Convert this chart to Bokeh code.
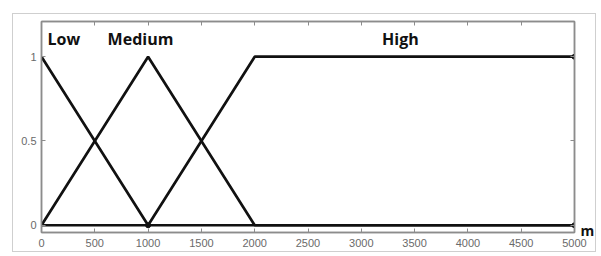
from bokeh.plotting import figure
from bokeh.models import (Range1d, LinearAxis, FixedTicker,
                          CustomLabelingPolicy)
from bokeh.embed import file_html
from bokeh.resources import INLINE
from bokeh.core.properties import value

# ---- data ----
x_ticks = [0, 500, 1000, 1500, 2000, 2500, 3000, 3500, 4000, 4500, 5000]
y_ticks = [0, 0.5, 1]
y_tick_labels = {0: "0", 0.5: "0.5", 1: "1"}

low_x = [0, 1000, 5000]
low_y = [1, 0, 0]
medium_x = [0, 1000, 2000, 5000]
medium_y = [0, 1, 0, 0]
high_x = [0, 1000, 2000, 5000]
high_y = [0, 0, 1, 1]

marker_x = [1000, 5000, 5000]
marker_y = [0, 0, 1]

set_names = ["Low", "Medium", "High"]
set_label_x = [56, 620, 3195]
set_label_y = [1.105, 1.105, 1.105]

unit_label = "m"
unit_label_y = -0.031

# ---- figure ----
FRAME = "#8c8c8c"
p = figure(width=584, height=239, output_backend="svg", toolbar_location=None,
           x_range=Range1d(0, 5000), y_range=Range1d(-0.043, 1.209),
           min_border_left=28, min_border_right=21, min_border_top=7,
           min_border_bottom=21, x_axis_location=None, y_axis_location=None)
p.styles = {"margin-left": "12px", "margin-top": "13px",
            "border": "1.5px solid #cfcfcf"}
p.grid.visible = False
p.outline_line_color = FRAME
p.outline_line_width = 1.5
p.background_fill_color = "white"
p.border_fill_color = "white"

hide_all = CustomLabelingPolicy(code="return new Set()")

def style_axis(ax, ticks, show_labels):
    ax.ticker = FixedTicker(ticks=ticks)
    ax.axis_line_color = FRAME
    ax.axis_line_width = 1.5
    ax.major_tick_in = 4
    ax.major_tick_out = 0
    ax.major_tick_line_color = FRAME
    ax.minor_tick_line_color = None
    ax.major_label_text_font = "Liberation Sans"
    ax.major_label_text_color = "#6a6a6a"
    ax.major_label_text_font_size = "11px"
    ax.major_label_standoff = 4
    if not show_labels:
        ax.major_label_policy = hide_all
        ax.major_label_text_font_size = "0px"
        ax.major_label_standoff = 0

bottom = LinearAxis()
style_axis(bottom, x_ticks, True)
bottom.major_label_standoff = 6
p.add_layout(bottom, "below")
left = LinearAxis()
style_axis(left, y_ticks, True)
left.major_label_overrides = y_tick_labels
left.major_label_standoff = 5
p.add_layout(left, "left")
top = LinearAxis()
style_axis(top, x_ticks, False)
p.add_layout(top, "above")
right = LinearAxis()
style_axis(right, y_ticks, False)
p.add_layout(right, "right")

# unit label "m" to the right of the x axis end
unit_axis = LinearAxis(ticker=FixedTicker(ticks=[unit_label_y]),
                       major_label_overrides={unit_label_y: unit_label},
                       axis_line_color=None, major_tick_line_color=None,
                       minor_tick_line_color=None, major_tick_in=0,
                       major_tick_out=0, major_label_standoff=6,
                       major_label_text_font="Open Sans",
                       major_label_text_font_style="bold",
                       major_label_text_font_size="14px",
                       major_label_text_color="#111111")
p.add_layout(unit_axis, "right")

LW = 2.7
p.line(low_x, low_y, line_color="#111111", line_width=LW)
p.line(medium_x, medium_y, line_color="#111111", line_width=LW)
p.line(high_x, high_y, line_color="#111111", line_width=LW)
p.scatter(marker_x, marker_y, size=5, color="#111111")

p.text(x=set_label_x, y=set_label_y, text=set_names,
       text_font=value("Open Sans"), text_font_style="bold",
       text_font_size="16px", text_baseline="middle", text_align="left",
       text_color="#111111")

open("out.html", "w").write(file_html(p, INLINE))
